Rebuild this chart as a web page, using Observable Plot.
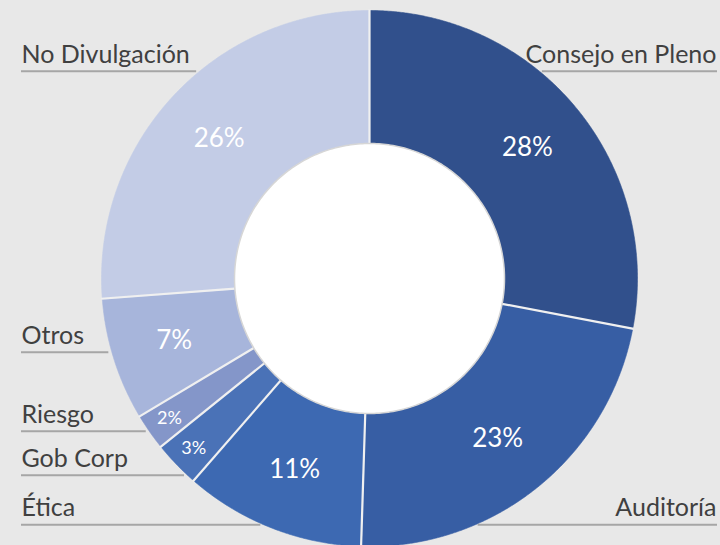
<!DOCTYPE html>
<html>
<head>
<meta charset="utf-8">
<script src="https://cdn.jsdelivr.net/npm/d3@7"></script>
<script src="https://cdn.jsdelivr.net/npm/@observablehq/plot@0.6"></script>
<style>
  html, body { margin: 0; padding: 0; background: #e8e8e8; overflow: hidden; }
  #chart svg { display: block; }
</style>
</head>
<body>
<div id="chart"></div>
<script>
// ---- Data ----
const categories = ["Consejo en Pleno", "Auditoría", "Ética", "Gob Corp", "Riesgo", "Otros", "No Divulgación"];
const values = [28.0, 22.5, 10.9, 2.8, 2.2, 7.4, 26.2];
const pctLabels = ["28%", "23%", "11%", "3%", "2%", "7%", "26%"];

// ---- Style / layout ----
const colors = ["#31508c", "#375ea4", "#3d69b2", "#4a72b7", "#8496c9", "#a7b5db", "#c3cce6"];
const W = 720, H = 545;
const cx = 369, cy = 278, R = 268, R0 = 135;
const r0 = R0 / R;
const labelRows = [
  {name: "Consejo en Pleno", side: "right", lineY: 70.7},
  {name: "Auditoría", side: "right", lineY: 524.3},
  {name: "Ética", side: "left", lineY: 524.3},
  {name: "Gob Corp", side: "left", lineY: 474.7},
  {name: "Riesgo", side: "left", lineY: 430.7},
  {name: "Otros", side: "left", lineY: 351.7},
  {name: "No Divulgación", side: "left", lineY: 70.7}
];
const leftX = 21, rightX = 717;

// ---- Geometry (unit circle = outer radius) ----
const arcs = d3.pie().sort(null).value(d => d)(values);
const slices = categories.map((c, i) => ({
  category: c, value: values[i], pct: pctLabels[i],
  a0: arcs[i].startAngle, a1: arcs[i].endAngle,
  mid: (arcs[i].startAngle + arcs[i].endAngle) / 2
}));

const polyPts = [];
for (const s of slices) {
  const n = Math.max(2, Math.ceil((s.a1 - s.a0) / 0.005));
  for (let k = 0; k <= n; k++) {
    const a = s.a0 + (s.a1 - s.a0) * k / n;
    polyPts.push({category: s.category, x: Math.sin(a), y: Math.cos(a)});
  }
  for (let k = n; k >= 0; k--) {
    const a = s.a0 + (s.a1 - s.a0) * k / n;
    polyPts.push({category: s.category, x: r0 * Math.sin(a), y: r0 * Math.cos(a)});
  }
}
const holePts = d3.range(0, 361).map(k => {
  const a = k * Math.PI / 180;
  return {x: r0 * Math.sin(a), y: r0 * Math.cos(a)};
});

const toUx = px => (px - cx) / R;
const toUy = py => (cy - py) / R;

const rows = labelRows.map(d => {
  const yu = toUy(d.lineY);
  const xa = Math.sqrt(Math.max(0, 1 - yu * yu));
  return {
    ...d,
    y: yu,
    ty: toUy(d.lineY - 8.5),
    x1: d.side === "left" ? toUx(leftX) : xa + 3 / R,
    x2: d.side === "left" ? -xa - 3 / R : toUx(rightX)
  };
});

const labelR = s => (s.value < 5 ? 244 : 205) / R;

const chart = Plot.plot({
  width: W, height: H,
  margin: 0,
  style: {background: "#e8e8e8", overflow: "hidden"},
  x: {domain: [toUx(0), toUx(W)], axis: null},
  y: {domain: [toUy(H), toUy(0)], axis: null},
  color: {domain: categories, range: colors},
  marks: [
    Plot.line(polyPts, {x: "x", y: "y", z: "category", fill: "category", stroke: "category", strokeWidth: 0.6, curve: "linear-closed"}),
    Plot.link(slices, {
      x1: s => r0 * Math.sin(s.a0), y1: s => r0 * Math.cos(s.a0),
      x2: s => 1.004 * Math.sin(s.a0), y2: s => 1.004 * Math.cos(s.a0),
      stroke: "#f0f0f0", strokeWidth: 2.2
    }),
    Plot.line(holePts, {x: "x", y: "y", fill: "white", stroke: "#d6d6d6", strokeWidth: 1.5, curve: "linear-closed"}),
    Plot.text(slices, {
      x: s => labelR(s) * Math.sin(s.mid), y: s => labelR(s) * Math.cos(s.mid),
      text: "pct", fill: "white", fontSize: s => s.value < 5 ? 18 : 26,
      fontFamily: "Lato", textAnchor: "middle", lineAnchor: "middle"
    }),
    Plot.ruleY(rows, {y: "y", x1: "x1", x2: "x2", stroke: "#a6a6a6", strokeWidth: 2}),
    Plot.text(rows.filter(d => d.side === "left"), {
      x: toUx(leftX), y: "ty", text: "name", textAnchor: "start", lineAnchor: "bottom",
      fill: "#404040", fontSize: 25, fontFamily: "Lato"
    }),
    Plot.text(rows.filter(d => d.side === "right"), {
      x: toUx(rightX - 1), y: "ty", text: "name", textAnchor: "end", lineAnchor: "bottom",
      fill: "#404040", fontSize: 25, fontFamily: "Lato"
    })
  ]
});
document.getElementById("chart").appendChild(chart);
</script>
</body>
</html>
